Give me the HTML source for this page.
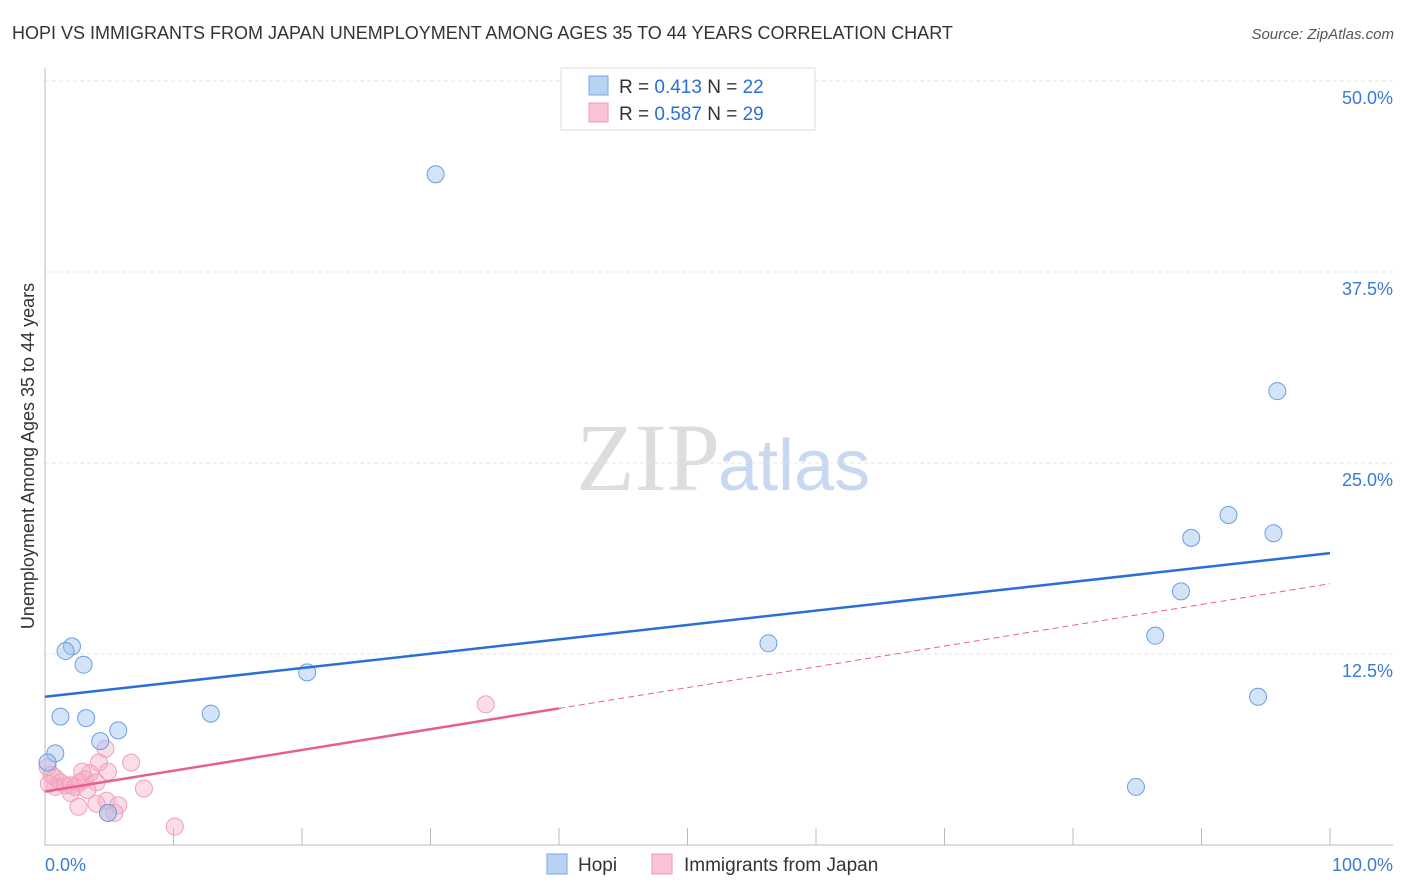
<!DOCTYPE html>
<html><head><meta charset="utf-8"><style>
body{margin:0;background:#fff;font-family:"Liberation Sans",sans-serif}
</style></head><body>
<svg id="c" width="1406" height="892" style="display:block">
<text x="12" y="39" font-size="18" fill="#333">HOPI VS IMMIGRANTS FROM JAPAN UNEMPLOYMENT AMONG AGES 35 TO 44 YEARS CORRELATION CHART</text>
<text x="1394" y="39" font-size="15" fill="#555" font-style="italic" text-anchor="end">Source: ZipAtlas.com</text>
<text x="720" y="490" font-size="96" fill="#ddd" text-anchor="end" font-family="Liberation Serif,serif">ZIP</text>
<text x="718" y="490" font-size="72" fill="#c8d8f0">atlas</text>
<text transform="translate(34,456) rotate(-90)" font-size="18" fill="#333" text-anchor="middle">Unemployment Among Ages 35 to 44 years</text>
<g id="grid"></g><g id="marks"></g>
<g>
<rect x="561" y="68" width="254" height="62" fill="#fff" stroke="#ddd"/>
<rect x="589" y="76" width="19" height="19" fill="#b8d2f4" stroke="#7aa6e0"/>
<rect x="589" y="103" width="19" height="19" fill="#f9c4d3" stroke="#ee9ab2"/>
<text x="619" y="93" font-size="19" fill="#333">R = <tspan fill="#2a6fd6">0.413</tspan>   N = <tspan fill="#2a6fd6">22</tspan></text>
<text x="619" y="120" font-size="19" fill="#333">R = <tspan fill="#2a6fd6">0.587</tspan>   N = <tspan fill="#2a6fd6">29</tspan></text>
</g>
<g>
<rect x="547" y="854" width="20" height="20" fill="#b8d2f4" stroke="#7aa6e0"/>
<text x="578" y="871" font-size="19" fill="#333">Hopi</text>
<rect x="652" y="854" width="20" height="20" fill="#f9c4d3" stroke="#ee9ab2"/>
<text x="684" y="871" font-size="19" fill="#333">Immigrants from Japan</text>
</g>
</svg>
<script>
const yTicks=[12.5,25,37.5,50];
const yTickLabels=["12.5%","25.0%","37.5%","50.0%"];
const xTickLabels=["0.0%","100.0%"];
const hopiX=[30.4,95.9,92.1,89.2,95.6,88.4,86.4,56.3,94.4,84.9,20.4,12.9,2.1,1.6,3.0,1.2,3.2,5.7,4.3,0.8,0.2,4.9];
const hopiY=[43.9,29.7,21.6,20.1,20.4,16.6,13.7,13.2,9.7,3.8,11.3,8.6,13.0,12.7,11.8,8.4,8.3,7.5,6.8,6.0,5.4,2.1];
const japanX=[34.3,6.7,4.7,4.2,0.2,0.5,0.8,1.2,1.6,2.0,2.3,2.7,3.1,3.5,2.9,4.0,4.8,5.7,4.9,2.6,4.0,7.7,10.1,5.4,4.9,3.3,2.0,0.8,0.3];
const japanY=[9.2,5.4,6.3,5.4,5.1,4.6,4.4,4.1,3.9,3.9,3.8,4.1,4.3,4.7,4.8,4.1,2.9,2.6,2.1,2.5,2.7,3.7,1.2,2.1,4.8,3.6,3.4,3.8,4.0];
const hopiTrend=[9.7,19.1];
const japanTrend=[3.5,17.1];
const japanSolidEnd=40;
const X=v=>45+v*12.85, Y=v=>845-v*15.28;
const NS="http://www.w3.org/2000/svg";
function mk(p,t,a){const e=document.createElementNS(NS,t);for(const k in a)e.setAttribute(k,a[k]);p.appendChild(e);return e;}
const g=document.getElementById('grid'),m=document.getElementById('marks');
yTicks.forEach((t,i)=>{
 const l=mk(g,'line',{x1:45,x2:1393,y1:Y(t),y2:Y(t),stroke:'#e4e4e4','stroke-dasharray':'4,3'});
 
 
 const tx=mk(g,'text',{x:1393,y:Y(t)+23,'font-size':18,fill:'#3a7bd5','text-anchor':'end'});
 tx.textContent=yTickLabels[i];
 
 
});
const ax=mk(g,'path',{d:'M45 68V845H1393',stroke:'#bbb',fill:'none'});


for(let i=0;i<=10;i++){const t=mk(g,'line',{x1:X(i*10),x2:X(i*10),y1:828,y2:845,stroke:'#bbb'});
 
 }
[[0,'start',45],[100,'end',1393]].forEach((d,i)=>{const t=mk(g,'text',{x:d[2],y:871,'font-size':18,fill:'#3a7bd5','text-anchor':d[1]});
 t.textContent=xTickLabels[i];
 
 });
japanX.forEach((x,i)=>{const c=mk(m,'circle',{cx:X(x),cy:Y(japanY[i]),r:8.5,fill:'rgba(246,170,194,0.4)',stroke:'#f0a0b8','stroke-width':1});
 
 });
hopiX.forEach((x,i)=>{const c=mk(m,'circle',{cx:X(x),cy:Y(hopiY[i]),r:8.5,fill:'rgba(160,196,240,0.45)',stroke:'#6b9de0','stroke-width':1});
 
 });
const jy=v=>japanTrend[0]+(japanTrend[1]-japanTrend[0])*v/100;
let l=mk(m,'line',{x1:X(0),y1:Y(jy(0)),x2:X(japanSolidEnd),y2:Y(jy(japanSolidEnd)),stroke:'#e8608a','stroke-width':2.5});


l=mk(m,'line',{x1:X(japanSolidEnd),y1:Y(jy(japanSolidEnd)),x2:X(100),y2:Y(jy(100)),stroke:'#e8608a','stroke-width':1,'stroke-dasharray':'6,4'});


l=mk(m,'line',{x1:X(0),y1:Y(hopiTrend[0]),x2:X(100),y2:Y(hopiTrend[1]),stroke:'#2a6fd6','stroke-width':2.5});


</script>
</body></html>
